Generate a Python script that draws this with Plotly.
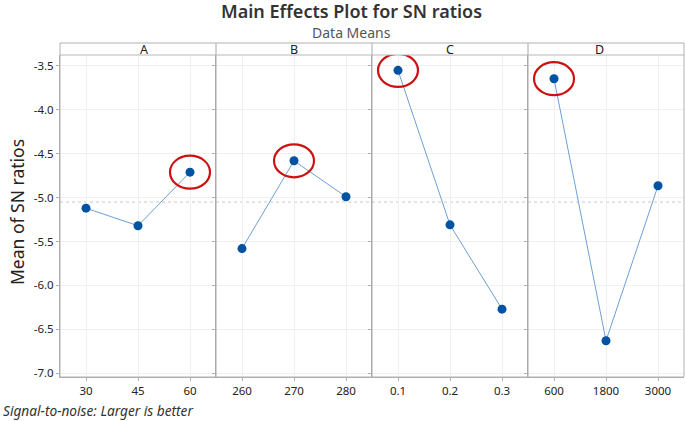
import plotly.graph_objects as go
from plotly.subplots import make_subplots

factors = ["A", "B", "C", "D"]
levels = {
    "A": ["30", "45", "60"],
    "B": ["260", "270", "280"],
    "C": ["0.1", "0.2", "0.3"],
    "D": ["600", "1800", "3000"],
}
sn_means = {
    "A": [-5.12, -5.32, -4.71],
    "B": [-5.58, -4.58, -4.99],
    "C": [-3.55, -5.31, -6.27],
    "D": [-3.645, -6.63, -4.865],
}
highlight_level = {"A": "60", "B": "270", "C": "0.1", "D": "600"}
grand_mean = -5.05
y_ticks = [-3.5, -4.0, -4.5, -5.0, -5.5, -6.0, -6.5, -7.0]

W, H = 685, 421
ml, mr, mt, mb = 60, 1, 55, 44
plot_h = H - mt - mb
plot_w = W - ml - mr
hdr = 12 / plot_h

fig = make_subplots(rows=1, cols=4, shared_yaxes=True, horizontal_spacing=0)

grid_c = "#f0f0f0"
for i, f in enumerate(factors):
    xs = list(range(1, len(levels[f]) + 1))
    fig.add_trace(go.Scatter(
        x=xs, y=sn_means[f], mode="lines+markers",
        line=dict(color="#6f9fd4", width=1),
        marker=dict(color="#0052a3", size=9),
        showlegend=False, hoverinfo="skip"), row=1, col=i + 1)
    fig.update_xaxes(range=[0.5, len(xs) + 0.5], tickvals=xs, ticktext=levels[f],
                     automargin=False,
                     showgrid=True, gridcolor=grid_c, gridwidth=1, zeroline=False,
                     showline=True, linecolor="#b0b0b0", linewidth=1,
                     ticks="outside", ticklen=3, tickcolor="#b0b0b0",
                     tickfont=dict(family="Noto Sans", size=11.5, color="#222"),
                     row=1, col=i + 1)
    k = levels[f].index(highlight_level[f])
    xr = "x" if i == 0 else f"x{i + 1}"
    fig.add_shape(type="circle", xref=xr, yref="y", xsizemode="pixel", ysizemode="pixel",
                  xanchor=xs[k], yanchor=sn_means[f][k], x0=-20, x1=20, y0=-16.5, y1=16.5,
                  line=dict(color="#cc1111", width=2.2))
    fig.add_annotation(xref="paper", yref="paper", x=(i + 0.5) / 4, y=1 + hdr / 2,
                       text=f, showarrow=False, yanchor="middle",
                       font=dict(family="Noto Sans", size=12.5, color="#222"))

fig.update_yaxes(range=[-7.043, -3.375], tickvals=y_ticks,
                 ticktext=[f"{v:.1f}" for v in y_ticks], automargin=False,
                 showgrid=True, gridcolor=grid_c, zeroline=False,
                 showline=True, linecolor="#b0b0b0", linewidth=1,
                 ticks="outside", ticklen=3, tickcolor="#b0b0b0",
                 tickfont=dict(family="Noto Sans", size=11.5, color="#222"))

fig.add_shape(type="line", xref="paper", yref="y", x0=0, x1=1, y0=grand_mean, y1=grand_mean,
              line=dict(color="#c8c8c8", width=1, dash="dot"), layer="below")
for j in range(1, 4):
    fig.add_shape(type="line", xref="paper", yref="paper", x0=j / 4, x1=j / 4, y0=0, y1=1 + hdr,
                  line=dict(color="#a8a8a8", width=1))
fig.add_shape(type="line", xref="paper", yref="paper", x0=0, x1=1, y0=1, y1=1,
              line=dict(color="#b8b8b8", width=1))
fig.add_shape(type="rect", xref="paper", yref="paper", x0=0, x1=1, y0=0, y1=1 + hdr,
              line=dict(color="#b0b0b0", width=1))

def px_x(px):
    return (px - ml) / plot_w

def px_y(py):
    return (H - mb - py) / plot_h

fig.add_annotation(xref="paper", yref="paper", x=px_x(351), y=px_y(11),
                   text="Main Effects Plot for SN ratios", showarrow=False, yanchor="middle",
                   font=dict(family="Noto Sans", size=18, color="#333", weight=600))
fig.add_annotation(xref="paper", yref="paper", x=px_x(351), y=px_y(32),
                   text="Data Means", showarrow=False, yanchor="middle",
                   font=dict(family="Noto Sans", size=14, color="#555"))
fig.add_annotation(xref="paper", yref="paper", x=px_x(17), y=px_y(212),
                   text="Mean of SN ratios", showarrow=False, textangle=-90,
                   xanchor="center", yanchor="middle",
                   font=dict(family="Noto Sans", size=17.5, color="#222"))
fig.add_annotation(xref="paper", yref="paper", x=px_x(1), xanchor="left",
                   y=px_y(410), yanchor="middle",
                   text="<i>Signal-to-noise: Larger is better</i>", showarrow=False,
                   font=dict(family="Noto Sans", size=13.7, color="#333"))

fig.update_layout(width=W, height=H, margin=dict(l=ml, r=mr, t=mt, b=mb, autoexpand=False),
                  paper_bgcolor="white", plot_bgcolor="white")
fig.write_html("out.html", config={"displayModeBar": False},
               post_script="document.body.style.margin='0';document.body.style.overflow='hidden';")
